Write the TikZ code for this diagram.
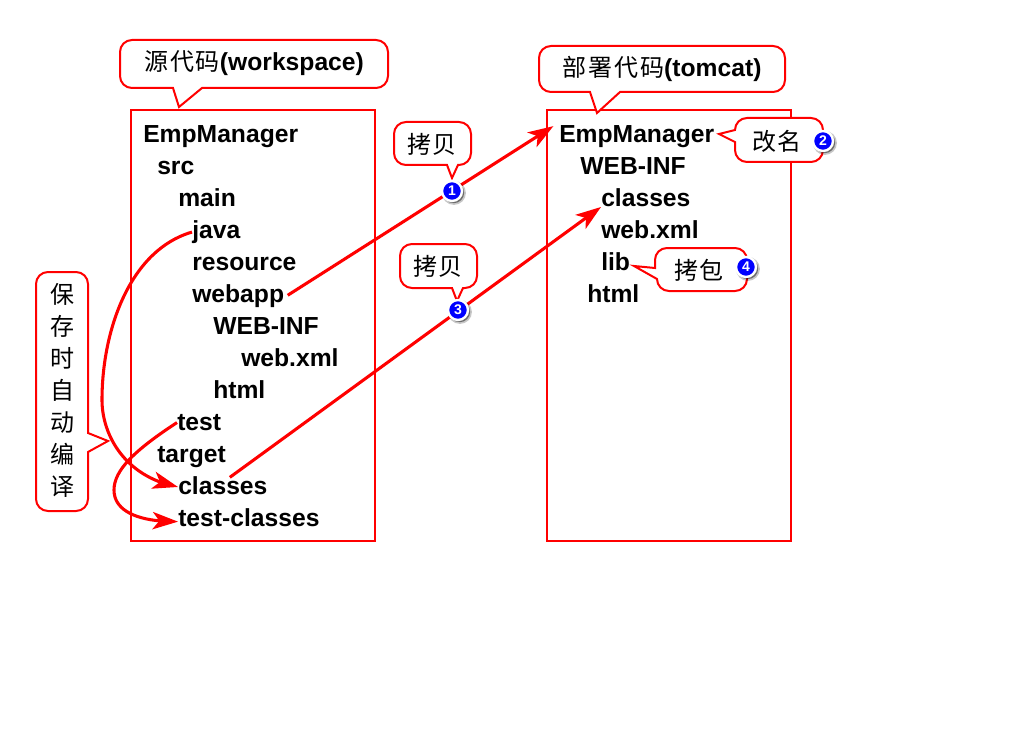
\documentclass[tikz,border=0pt]{standalone}
\usepackage{fontspec}
\setmainfont{Liberation Sans}
\newfontfamily\cjk[LetterSpace=8]{Noto Sans CJK SC}
\usetikzlibrary{arrows.meta,shadows,bending}
\newcommand{\cjkt}[1]{{\fontsize{18pt}{24pt}\selectfont\mdseries\cjk #1}}
\definecolor{linered}{RGB}{255,0,0}
\tikzset{
  x=0.75pt,y=-0.75pt,
  frame/.style={draw=linered,line width=1.5pt},
  bubble/.style={draw=linered,line width=1.5pt,fill=white,line join=miter},
  item/.style={anchor=base west,inner sep=0pt,yshift=0.4pt,font=\fontsize{18.5pt}{22pt}\selectfont\bfseries},
  say/.style={inner sep=0pt,font=\fontsize{18.5pt}{24pt}\selectfont\bfseries,align=center},
  saycol/.style={inner sep=0pt,font=\fontsize{18pt}{24pt}\selectfont\cjk,align=center},
  flow/.style={draw=linered,line width=2.3pt,-{Stealth[length=19pt,width=13pt,inset=5pt]}},
  badge/.style={circle,fill=blue,draw=white,line width=1.8pt,minimum size=15pt,inner sep=0pt,text=white,
    font=\fontsize{10.5pt}{10.5pt}\selectfont\bfseries,
    drop shadow={shadow xshift=1.2pt,shadow yshift=-1.2pt,shadow scale=1.2,opacity=.22,fill=black},
    drop shadow={shadow xshift=1.2pt,shadow yshift=-1.2pt,shadow scale=1.05,opacity=.45,fill=black}},
}
\begin{document}
\begin{tikzpicture}
\useasboundingbox (0,0) rectangle (1024,738);
\fill[white] (0,0) rectangle (1024,738);
% frames
\draw[frame] (131,110) rectangle (375,541);
\draw[frame] (547,110) rectangle (791,541);
% left column
\node[item] (lroot) at (143,143) {EmpManager};
\node[item] (lsrc) at (157,175) {src};
\node[item] (lmain) at (178,207) {main};
\node[item] (ljava) at (192,239) {java};
\node[item] (lres) at (192,271) {resource};
\node[item] (lwebapp) at (192,303) {webapp};
\node[item] (lweb) at (213,335) {WEB-INF};
\node[item] (lxml) at (241,367) {web.xml};
\node[item] (lhtml) at (213,399) {html};
\node[item] (ltest) at (177,431) {test};
\node[item] (ltarget) at (157,463) {target};
\node[item] (lclasses) at (178,495) {classes};
\node[item] (ltc) at (178,527) {test-classes};
% right column
\node[item] (rroot) at (559,143) {EmpManager};
\node[item] (rweb) at (580,175) {WEB-INF};
\node[item] (rclasses) at (601,207) {classes};
\node[item] (rxml) at (601,239) {web.xml};
\node[item] (rlib) at (601,271) {lib};
\node[item] (rhtml) at (587,303) {html};
% connectors
\draw[flow,shorten <=3pt,shorten >=5pt] ([yshift=-1pt]lwebapp.east) -- ([yshift=2pt]rroot.north west);
\draw[flow] (lclasses.north) ++(7,1) coordinate (c3s) (c3s) -- (rclasses.south west);
\draw[flow] (ljava.west) .. controls (130,250) and (102,330) .. (102,400) .. controls (102,435) and (125,477) .. ([yshift=-1pt]lclasses.west);
\draw[flow] (ltest.west) .. controls (135,450) and (114,470) .. (114,490) .. controls (114,512) and (140,522) .. ([yshift=-3pt]ltc.west);
% callouts
\draw[bubble] (173,88) -- (179,107) -- (202,88) [rounded corners=9pt] -- (388,88) -- (388,40) -- (120,40) -- (120,88) [sharp corners] -- cycle;
\node[say] (t1) at (254,63) {\cjkt{源代码}(workspace)};
\draw[bubble] (590,92) -- (597,113) -- (620,92) [rounded corners=9pt] -- (785,92) -- (785,46) -- (539,46) -- (539,92) [sharp corners] -- cycle;
\node[say] (t2) at (662,69) {\cjkt{部署代码}(tomcat)};
\draw[bubble] (447,165) -- (452,178) -- (458,165) [rounded corners=9pt] -- (471,165) -- (471,122) -- (394,122) -- (394,165) [sharp corners] -- cycle;
\node[say] (t3) at (432,144) {\cjkt{拷贝}};
\draw[bubble] (452,288) -- (457,301) -- (463,288) [rounded corners=9pt] -- (477,288) -- (477,244) -- (400,244) -- (400,288) [sharp corners] -- cycle;
\node[say] (t4) at (438,266) {\cjkt{拷贝}};
\draw[bubble] (88,433) -- (108,441) -- (88,452) [rounded corners=9pt] -- (88,511) -- (36,511) -- (36,272) -- (88,272) [sharp corners] -- cycle;
\node[saycol] (t5) at (62,390) {保\\存\\时\\自\\动\\编\\译};
\draw[bubble] (735,130) -- (719,134) -- (735,142) [rounded corners=9pt] -- (735,162) -- (823,162) -- (823,118) -- (735,118) [sharp corners] -- cycle;
\node[say] (t6) at (777,141) {\cjkt{改名}};
\draw[bubble] (655,268) -- (634,266) -- (657,279) [rounded corners=9pt] -- (657,291) -- (747,291) -- (747,248) -- (655,248) [sharp corners] -- cycle;
\node[say] (t7) at (699,270) {\cjkt{拷包}};
% badges
\node[badge] (b1) at (452,191) {1};
\node[badge] (b2) at (823,141) {2};
\node[badge] (b3) at (458,310) {3};
\node[badge] (b4) at (746,267) {4};
\end{tikzpicture}
\end{document}
